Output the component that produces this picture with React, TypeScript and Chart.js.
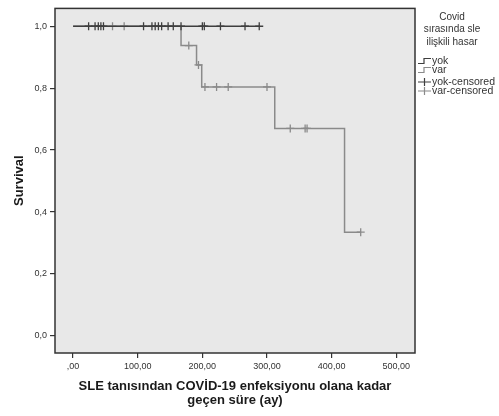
import React, { useEffect, useRef } from "react";
import { Chart, registerables } from "chart.js";

Chart.register(...registerables);

// ---- Data ----
const yokTimes = [0, 288];
const yokSurvival = [1, 1];
const varTimes = [0, 167, 191, 199, 312, 420, 445];
const varSurvival = [1, 0.9375, 0.875, 0.804, 0.67, 0.335, 0.335];
const yokCensoredTimes = [24, 34, 39, 43, 47, 109, 122, 127, 132, 137, 147, 155, 167, 200, 203, 228, 266, 288];
const varCensoredTimes = [61, 79, 179, 194, 204, 222, 240, 300, 336, 359, 362, 445];
const varCensoredSurvival = [1, 1, 0.9375, 0.875, 0.804, 0.804, 0.804, 0.804, 0.67, 0.67, 0.67, 0.335];
const xTickValues = [0, 100, 200, 300, 400, 500];
const yTickValues = [0, 0.2, 0.4, 0.6, 0.8, 1.0];
const legendTitle = ["Covid", "sırasında sle", "ilişkili hasar"];
const legendLabels = ["yok", "var", "yok-censored", "var-censored"];
const xTitle = ["SLE tanısından COVİD-19 enfeksiyonu olana kadar", "geçen süre (ay)"];
const yTitle = "Survival";

const YOK_COLOR = "#3e3e3e";
const VAR_COLOR = "#8a8a8a";
const FONT = "'Liberation Sans', Arial, sans-serif";

const bgPlugin = {
  id: "plotBg",
  beforeDraw(chart: any) {
    const { ctx, chartArea: a } = chart;
    ctx.save();
    ctx.fillStyle = "#e8e8e8";
    ctx.fillRect(a.left, a.top, a.right - a.left, a.bottom - a.top);
    ctx.restore();
  },
  afterDraw(chart: any) {
    const { ctx, chartArea: a } = chart;
    ctx.save();
    ctx.strokeStyle = "#333";
    ctx.lineWidth = 1.5;
    ctx.strokeRect(a.left, a.top, a.right - a.left, a.bottom - a.top);

    // legend
    ctx.fillStyle = "#333";
    ctx.font = `10px ${FONT}`;
    ctx.textAlign = "center";
    ctx.textBaseline = "middle";
    legendTitle.forEach((t, i) => ctx.fillText(t, 452, 17 + i * 12.5));

    const ys = [61, 70, 82, 91];
    const colors = [YOK_COLOR, VAR_COLOR, YOK_COLOR, VAR_COLOR];
    ctx.textAlign = "left";
    ctx.font = `10.5px ${FONT}`;
    ys.forEach((y, i) => {
      ctx.strokeStyle = colors[i];
      ctx.lineWidth = 1.2;
      ctx.beginPath();
      if (i < 2) {
        ctx.moveTo(418, y + 2.5);
        ctx.lineTo(424, y + 2.5);
        ctx.lineTo(424, y - 2.5);
        ctx.lineTo(431, y - 2.5);
      } else {
        ctx.moveTo(418, y);
        ctx.lineTo(431, y);
        ctx.moveTo(424.5, y - 4);
        ctx.lineTo(424.5, y + 4);
      }
      ctx.stroke();
      ctx.fillStyle = "#333";
      ctx.fillText(legendLabels[i], 432, y);
    });
    ctx.restore();
  },
};

export default function App() {
  const ref = useRef<HTMLCanvasElement>(null);
  useEffect(() => {
    if (!ref.current) return;
    const chart = new Chart(ref.current, {
      type: "line",
      data: {
        datasets: [
          {
            label: "yok",
            data: yokTimes.map((x, i) => ({ x, y: yokSurvival[i] })),
            borderColor: YOK_COLOR,
            borderWidth: 1.5,
            stepped: true,
            pointRadius: 0,
          },
          {
            label: "yok-censored",
            data: yokCensoredTimes.map((x) => ({ x, y: 1 })),
            showLine: false,
            pointStyle: "cross",
            pointRadius: 4,
            pointBorderWidth: 1.3,
            borderColor: YOK_COLOR,
          },
          {
            label: "var-censored",
            data: varCensoredTimes.map((x, i) => ({ x, y: varCensoredSurvival[i] })),
            showLine: false,
            pointStyle: "cross",
            pointRadius: 4,
            pointBorderWidth: 1.3,
            borderColor: VAR_COLOR,
          },
          {
            label: "var",
            data: varTimes.map((x, i) => ({ x, y: varSurvival[i] })),
            borderColor: VAR_COLOR,
            borderWidth: 1.5,
            stepped: true,
            pointRadius: 0,
          },
        ],
      },
      options: {
        animation: false,
        responsive: false,
        devicePixelRatio: 1,
        layout: { padding: { left: 0, top: 5, right: 84, bottom: 0 } },
        plugins: { legend: { display: false }, tooltip: { enabled: false } },
        scales: {
          x: {
            type: "linear",
            min: -28,
            max: 529,
            afterBuildTicks: (s: any) => {
              s.ticks = xTickValues.map((v) => ({ value: v }));
            },
            afterFit: (s: any) => {
              s.height = 63;
            },
            grid: { drawOnChartArea: false, drawTicks: true, tickLength: 5, color: "#333", lineWidth: 1.2 },
            border: { display: false },
            ticks: {
              padding: 3,
              maxRotation: 0,
              autoSkip: false,
              color: "#333",
              font: { family: FONT, size: 9 },
              callback: (v: any) => (v === 0 ? ",00" : Number(v).toFixed(2).replace(".", ",")),
            },
            title: {
              display: true,
              text: xTitle,
              color: "#1a1a1a",
              font: { family: FONT, size: 13, weight: "bold", lineHeight: 1.1 },
              padding: { top: 4, bottom: 8.5 },
            },
          },
          y: {
            type: "linear",
            min: -0.0553,
            max: 1.0576,
            afterBuildTicks: (s: any) => {
              s.ticks = yTickValues.map((v) => ({ value: v }));
            },
            afterFit: (s: any) => {
              s.width = 55;
            },
            grid: { drawOnChartArea: false, drawTicks: true, tickLength: 5, color: "#333", lineWidth: 1.2 },
            border: { display: false },
            ticks: {
              padding: 3,
              autoSkip: false,
              color: "#333",
              font: { family: FONT, size: 9 },
              callback: (v: any) => Number(v).toFixed(1).replace(".", ","),
            },
            title: {
              display: true,
              text: yTitle,
              color: "#1a1a1a",
              font: { family: FONT, size: 13, weight: "bold" },
              padding: { top: 12, bottom: 0 },
            },
          },
        },
      },
      plugins: [bgPlugin],
    } as any);
    return () => chart.destroy();
  }, []);
  return (
    <div style={{ position: "absolute", left: 0, top: 0, width: 499, height: 416, background: "#fff" }}>
      <canvas ref={ref} width={499} height={416} />
    </div>
  );
}
